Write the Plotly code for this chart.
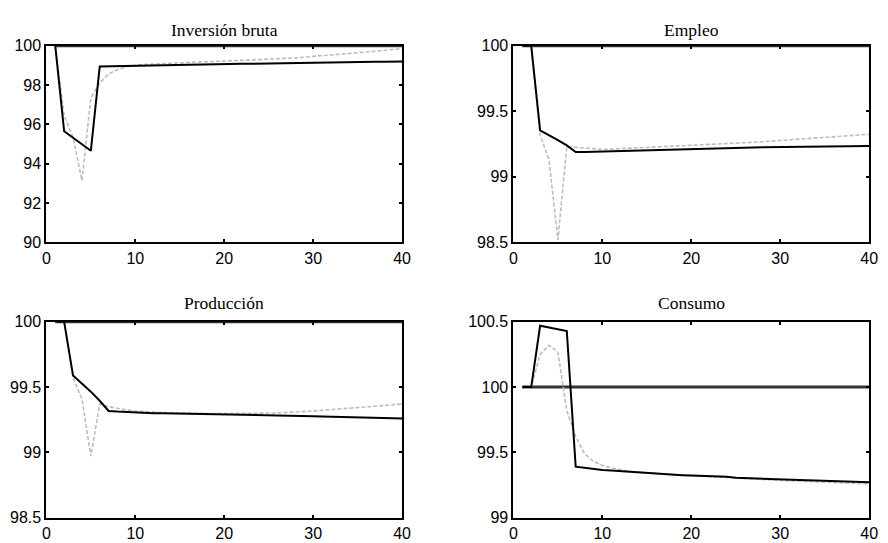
import plotly.graph_objects as go

periods = list(range(1, 41))

titles = ["Inversión bruta", "Empleo", "Producción", "Consumo"]

inv_solid = [100, 95.65, 95.32, 94.99, 94.66, 98.95, 98.96, 98.97, 98.97, 98.98,
             98.99, 99.00, 99.00, 99.01, 99.02, 99.03, 99.04, 99.04, 99.05, 99.06,
             99.07, 99.08, 99.08, 99.09, 99.10, 99.11, 99.12, 99.13, 99.14, 99.15,
             99.15, 99.16, 99.16, 99.17, 99.17, 99.18, 99.19, 99.19, 99.20, 99.20]
inv_dash = [100, 96.45, 95.35, 93.15, 97.35, 98.10, 98.57, 98.78, 98.93, 99.01,
            99.05, 99.07, 99.09, 99.10, 99.11, 99.13, 99.15, 99.17, 99.20, 99.23,
            99.24, 99.25, 99.27, 99.28, 99.31, 99.33, 99.35, 99.38, 99.42, 99.47,
            99.50, 99.53, 99.56, 99.60, 99.64, 99.68, 99.72, 99.76, 99.81, 99.86]

emp_solid = [100, 100, 99.355, 99.32, 99.28, 99.24, 99.19, 99.19, 99.192, 99.195,
             99.197, 99.200, 99.202, 99.204, 99.206, 99.208, 99.210, 99.212, 99.214, 99.216,
             99.218, 99.220, 99.221, 99.222, 99.223, 99.224, 99.225, 99.226, 99.227, 99.228,
             99.229, 99.230, 99.231, 99.232, 99.232, 99.233, 99.234, 99.235, 99.235, 99.236]
emp_dash = [100, 100, 99.32, 99.13, 98.52, 99.23, 99.225, 99.22, 99.215, 99.21,
            99.212, 99.215, 99.218, 99.220, 99.223, 99.226, 99.229, 99.232, 99.235, 99.240,
            99.243, 99.246, 99.249, 99.252, 99.256, 99.260, 99.264, 99.268, 99.273, 99.278,
            99.282, 99.286, 99.290, 99.294, 99.298, 99.303, 99.308, 99.313, 99.319, 99.325]

prod_solid = [100, 100, 99.588, 99.53, 99.465, 99.395, 99.317, 99.312, 99.308, 99.305,
              99.302, 99.300, 99.299, 99.298, 99.297, 99.296, 99.294, 99.293, 99.292, 99.290,
              99.289, 99.288, 99.287, 99.286, 99.285, 99.284, 99.283, 99.281, 99.279, 99.277,
              99.275, 99.274, 99.272, 99.270, 99.269, 99.268, 99.266, 99.264, 99.262, 99.260]
prod_dash = [100, 100, 99.57, 99.41, 98.97, 99.37, 99.35, 99.335, 99.325, 99.317,
             99.312, 99.308, 99.305, 99.303, 99.301, 99.300, 99.299, 99.298, 99.297, 99.297,
             99.297, 99.297, 99.298, 99.299, 99.300, 99.302, 99.305, 99.308, 99.312, 99.317,
             99.322, 99.327, 99.332, 99.337, 99.342, 99.347, 99.352, 99.357, 99.363, 99.370]

cons_solid = [100, 100, 100.47, 100.457, 100.445, 100.43, 99.39, 99.38, 99.37, 99.365,
              99.360, 99.355, 99.350, 99.345, 99.340, 99.338, 99.335, 99.330, 99.325, 99.322,
              99.320, 99.317, 99.315, 99.312, 99.305, 99.302, 99.300, 99.298, 99.295, 99.292,
              99.290, 99.288, 99.286, 99.284, 99.282, 99.280, 99.278, 99.276, 99.273, 99.270]
cons_dash = [100, 100, 100.25, 100.32, 100.27, 99.82, 99.62, 99.49, 99.43, 99.40,
             99.380, 99.365, 99.355, 99.348, 99.342, 99.337, 99.332, 99.328, 99.324, 99.320,
             99.316, 99.312, 99.308, 99.305, 99.300, 99.297, 99.294, 99.291, 99.288, 99.285,
             99.282, 99.279, 99.276, 99.273, 99.270, 99.267, 99.264, 99.262, 99.260, 99.258]

baseline = [100] * 40

solids = [inv_solid, emp_solid, prod_solid, cons_solid]
dashes = [inv_dash, emp_dash, prod_dash, cons_dash]

y_ranges = [[90, 100], [98.5, 100], [98.5, 100], [99, 100.5]]
y_tickvals = [[90, 92, 94, 96, 98, 100], [98.5, 99, 99.5, 100], [98.5, 99, 99.5, 100], [99, 99.5, 100, 100.5]]
y_ticktext = [["90", "92", "94", "96", "98", "100"], ["98.5", "99", "99.5", "100"],
              ["98.5", "99", "99.5", "100"], ["99", "99.5", "100", "100.5"]]
x_tickvals = [0, 10, 20, 30, 40]

W, H = 888, 543
# pixel boxes (left, right, top, bottom)
boxes = [(43, 404, 39, 242), (517, 878, 39, 242), (43, 404, 324, 526), (517, 878, 324, 526)]
title_y = [23, 23, 305, 305]

fig = go.Figure()
layout = dict(width=W, height=H, margin=dict(l=0, r=0, t=0, b=0),
              paper_bgcolor="white", plot_bgcolor="white", showlegend=False,
              annotations=[])

for i in range(4):
    n = "" if i == 0 else str(i + 1)
    xa, ya = "x" + n, "y" + n
    fig.add_trace(go.Scatter(x=periods, y=baseline, mode="lines", xaxis=xa, yaxis=ya,
                             line=dict(color="#333333", width=3)))
    fig.add_trace(go.Scatter(x=periods, y=dashes[i], mode="lines", xaxis=xa, yaxis=ya,
                             line=dict(color="#bdbdbd", width=1.6, dash="4px,2px")))
    fig.add_trace(go.Scatter(x=periods, y=solids[i], mode="lines", xaxis=xa, yaxis=ya,
                             line=dict(color="black", width=2)))
    l, r, t, b = boxes[i]
    common = dict(showline=True, linecolor="black", linewidth=2, mirror="ticks",
                  ticks="inside", ticklen=3, tickwidth=1.5, tickcolor="black",
                  showgrid=False, zeroline=False,
                  tickfont=dict(family="Liberation Sans, Arial", size=16, color="black"))
    layout["xaxis" + n] = dict(domain=[l / W, r / W], range=[0, 40], anchor=ya,
                               tickvals=x_tickvals, ticklabelstandoff=0, **common)
    layout["yaxis" + n] = dict(domain=[1 - b / H, 1 - t / H], range=y_ranges[i], anchor=xa,
                               tickvals=y_tickvals[i], ticktext=y_ticktext[i],
                               ticklabelstandoff=0, **common)
    layout["annotations"].append(dict(text=titles[i], x=(l + r) / 2 / W, y=1 - title_y[i] / H,
                                      xref="paper", yref="paper", xanchor="center", yanchor="middle",
                                      showarrow=False,
                                      font=dict(family="Liberation Serif, Times New Roman", size=17.5,
                                                color="black")))

fig.update_layout(**layout)
fig.write_html("out.html", config={"displayModeBar": False},
               post_script="document.body.style.margin='0';document.body.style.overflow='hidden';")
